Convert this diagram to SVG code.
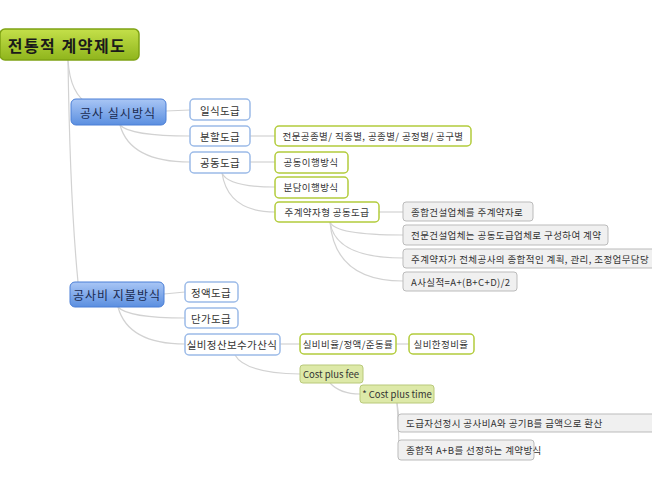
<svg xmlns="http://www.w3.org/2000/svg" width="652" height="488" viewBox="0 0 652 488">
<defs>
<linearGradient id="gRoot" x1="0" y1="0" x2="0" y2="1"><stop offset="0" stop-color="#c4e04a"/><stop offset="1" stop-color="#8fb51c"/></linearGradient>
<linearGradient id="gBlue" x1="0" y1="0" x2="0" y2="1"><stop offset="0" stop-color="#a9c6f5"/><stop offset="1" stop-color="#5b8fe0"/></linearGradient>
</defs>
<style>
text{font-family:"Noto Sans CJK KR","Noto Sans",sans-serif;font-size:9.5px;fill:#333;dominant-baseline:central;text-anchor:middle;letter-spacing:0.4px}
.root rect{fill:url(#gRoot);stroke:#7fa314;stroke-width:1.5}
.root text{font-size:16px;font-weight:bold;fill:#1a1a1a;letter-spacing:1.5px}
.main rect{fill:url(#gBlue);stroke:#4a7ed6;stroke-width:1}
.main text{font-size:12px;fill:#1a2a50;letter-spacing:1px}
.b rect{fill:#fff;stroke:#9cbbe8;stroke-width:1.5}
.b text{font-size:10.5px}
.g rect{fill:#fff;stroke:#b3cc3c;stroke-width:1.5}
.y rect{fill:#dde9a8;stroke:#b9c97a;stroke-width:1}
.y text{letter-spacing:0}
.n rect{fill:#f0f0f0;stroke:#bbb;stroke-width:1}
.n text{text-anchor:start}
#connectors path{fill:none;stroke:#d2d2d2;stroke-width:1.2}
</style>
<g id="connectors">
<path d="M68,60 Q70,95 90,105"/>
<path d="M68,60 Q70,200 78,282"/>
<path d="M166,111 L190,110"/>
<path d="M120,125 Q130,136 190,136"/>
<path d="M120,125 Q130,162 190,162"/>
<path d="M250,136 L275,136"/>
<path d="M250,162 L275,162"/>
<path d="M222,173 Q228,187 275,187"/>
<path d="M222,173 Q228,212 275,212"/>
<path d="M379,212 L403,212"/>
<path d="M330,222 Q335,235 403,235"/>
<path d="M330,222 Q335,258 403,258"/>
<path d="M330,222 Q335,281 403,281"/>
<path d="M164,294 L185,292"/>
<path d="M118,307 Q128,318 185,318"/>
<path d="M118,307 Q128,344 185,344"/>
<path d="M280,344 L300,344"/>
<path d="M396,344 L409,344"/>
<path d="M235,355 Q245,373 300,374"/>
<path d="M330,383 Q340,394 360,394"/>
<path d="M397,403 Q400,423 398,423"/>
<path d="M397,403 Q400,450 398,450"/>
</g>
<g id="root" class="root"><rect x="0" y="29" width="139" height="31" rx="5"/><text x="67" y="45">전통적 계약제도</text></g>
<g id="n1" class="main"><rect x="71" y="99" width="95" height="26" rx="5"/><text x="118" y="112">공사 실시방식</text></g>
<g id="n2" class="b"><rect x="190" y="99" width="60" height="21" rx="4"/><text x="220" y="110">일식도급</text></g>
<g id="n3" class="b"><rect x="190" y="126" width="60" height="20" rx="4"/><text x="220" y="136">분할도급</text></g>
<g id="n4" class="g"><rect x="275" y="126" width="196" height="20" rx="4"/><text x="373" y="136">전문공종별/ 직종별, 공종별/ 공정별/ 공구별</text></g>
<g id="n5" class="b"><rect x="190" y="152" width="60" height="21" rx="4"/><text x="220" y="162">공동도급</text></g>
<g id="n6" class="g"><rect x="275" y="152" width="73" height="21" rx="4"/><text x="311" y="162">공동이행방식</text></g>
<g id="n7" class="g"><rect x="275" y="177" width="73" height="21" rx="4"/><text x="311" y="187">분담이행방식</text></g>
<g id="n8" class="g"><rect x="275" y="202" width="104" height="20" rx="4"/><text x="327" y="212">주계약자형 공동도급</text></g>
<g id="n9" class="n"><rect x="403" y="202" width="130" height="19" rx="3"/><text x="411" y="211.5">종합건설업체를 주계약자로</text></g>
<g id="n10" class="n"><rect x="403" y="225" width="205" height="20" rx="3"/><text x="411" y="235">전문건설업체는 공동도급업체로 구성하여 계약</text></g>
<g id="n11" class="n"><rect x="403" y="249" width="252" height="19" rx="3"/><text x="411" y="258.5">주계약자가 전체공사의 종합적인 계획, 관리, 조정업무담당</text></g>
<g id="n12" class="n"><rect x="403" y="272" width="114" height="19" rx="3"/><text x="411" y="281.5">A사실적=A+(B+C+D)/2</text></g>
<g id="n13" class="main"><rect x="70" y="282" width="94" height="25" rx="5"/><text x="117" y="294.5">공사비 지불방식</text></g>
<g id="n14" class="b"><rect x="185" y="282" width="53" height="20" rx="4"/><text x="211" y="292">정액도급</text></g>
<g id="n15" class="b"><rect x="185" y="308" width="53" height="20" rx="4"/><text x="211" y="318">단가도급</text></g>
<g id="n16" class="b"><rect x="185" y="334" width="95" height="21" rx="4"/><text x="232" y="344">실비정산보수가산식</text></g>
<g id="n17" class="g"><rect x="300" y="334" width="96" height="20" rx="4"/><text x="348" y="344">실비비율/정액/준동률</text></g>
<g id="n18" class="g"><rect x="409" y="334" width="65" height="20" rx="4"/><text x="441" y="344">실비한정비율</text></g>
<g id="n19" class="y"><rect x="300" y="365" width="63" height="18" rx="3"/><text x="331" y="374">Cost plus fee</text></g>
<g id="n20" class="y"><rect x="360" y="385" width="74" height="18" rx="3"/><text x="397" y="394">* Cost plus time</text></g>
<g id="n21" class="n"><rect x="398" y="414" width="260" height="18" rx="3"/><text x="406" y="423">도급자선정시 공사비A와 공기B를 금액으로 환산</text></g>
<g id="n22" class="n"><rect x="398" y="440" width="136" height="20" rx="3"/><text x="406" y="450">종합적 A+B를 선정하는 계약방식</text></g>
</svg>
